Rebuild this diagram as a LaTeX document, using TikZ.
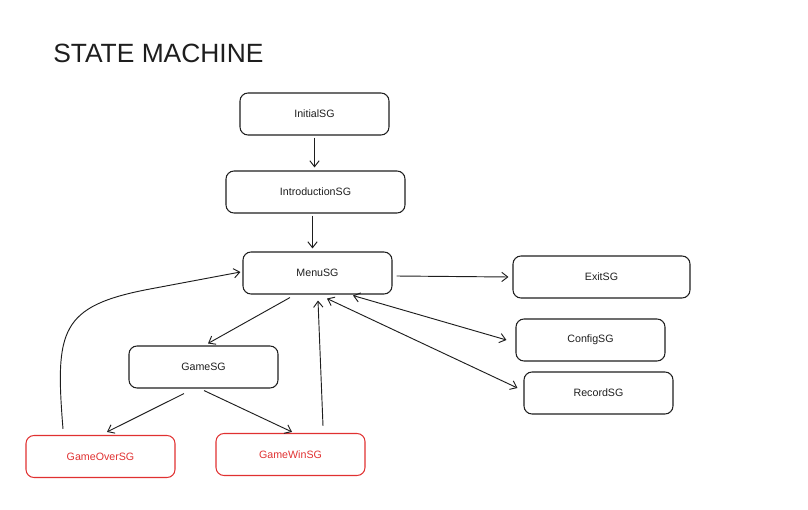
\documentclass[tikz,border=0pt]{standalone}
\usepackage{fontspec}
\setmainfont{Liberation Sans}
\usetikzlibrary{arrows.meta,calc}
\definecolor{ink}{HTML}{1E1E1E}
\definecolor{redink}{HTML}{E03131}
\tikzset{
  state/.style={draw=ink, line width=0.8pt, rounded corners=6pt, minimum width=111.75pt, minimum height=31.5pt, font=\fontsize{8}{10}\selectfont, text=ink, inner sep=0pt},
  endstate/.style={state, draw=redink, text=redink},
  arr/.style={draw=ink, line width=0.7pt, -{Straight Barb[length=4.5pt,width=7pt]}},
  darr/.style={draw=ink, line width=0.7pt, {Straight Barb[length=4.5pt,width=7pt]}-{Straight Barb[length=4.5pt,width=7pt]}}
}
\begin{document}
\begin{tikzpicture}[x=0.75pt,y=-0.75pt]
\useasboundingbox (0,0) rectangle (808,510);
\node[anchor=west, font=\fontsize{19.8}{22}\selectfont, text=ink, inner sep=0pt] (title) at (53,53) {STATE MACHINE};
\node[state] (init) at (314.5,114) {InitialSG};
\node[state, minimum width=134.25pt] (intro) at (315.5,192) {IntroductionSG};
\node[state] (menu) at (317.5,273) {MenuSG};
\node[state, minimum width=132.75pt] (exit) at (601.5,277) {ExitSG};
\node[state] (config) at (590.5,340) {ConfigSG};
\node[state] (record) at (598.5,393) {RecordSG};
\node[state] (game) at (203.5,367) {GameSG};
\node[endstate] (over) at (100.5,456.5) {GameOverSG};
\node[endstate] (win) at (290.5,454.5) {GameWinSG};

\draw[arr] ($(init.south)+(0,2)$) -- ($(intro.north)+(-1,-3)$);
\draw[arr] ($(intro.south)+(-3,2)$) -- ($(menu.north)+(-5,-3)$);
\draw[arr] ($(menu.east)+(4,3)$) -- ($(exit.west)+(-4,0)$);
\draw[darr] ($(menu.south)+(35.5,1)$) -- ($(config.west)+(-9,0)$);
\draw[darr] ($(menu.south)+(9.5,4)$) -- ($(record.west)+(-6,-5)$);
\draw[arr] ($(menu.south)+(-27.5,3)$) -- ($(game.north)+(4.5,-2)$);
\draw[arr] ($(game.south)+(-19.5,5)$) -- ($(over.north)+(6.5,-3)$);
\draw[arr] ($(game.south)+(0.5,2)$) -- ($(win.north)+(1.5,-1)$);
\draw[arr] ($(win.north)+(32.5,-7)$) -- ($(menu.south)+(0.5,6)$);
\coordinate (bend) at (150,289);
\draw[arr] ($(over.north)+(-37.5,-6)$) .. controls (55,330) and (60,306) .. (bend) -- ($(menu.west)+(-2,-1)$);
\end{tikzpicture}
\end{document}
